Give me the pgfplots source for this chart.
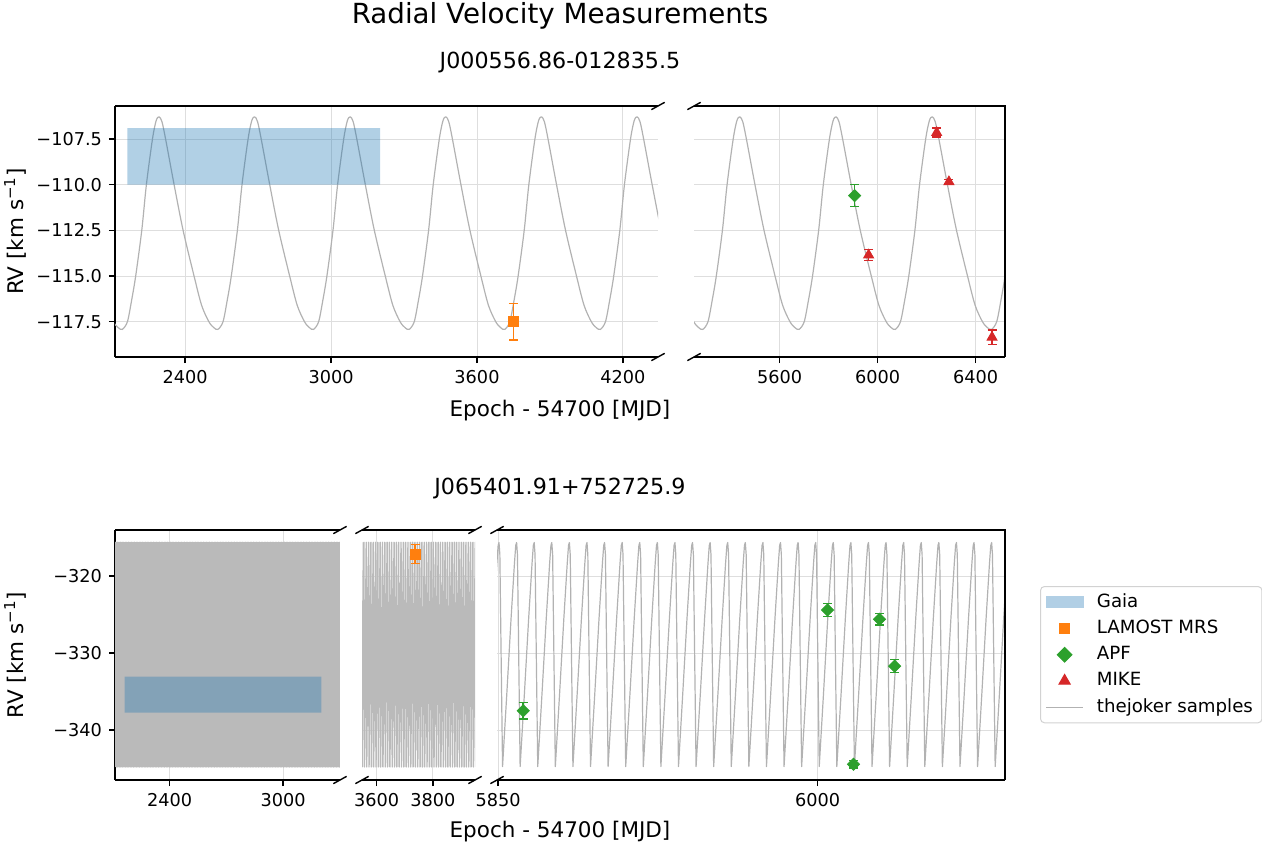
\documentclass[border=0pt]{standalone}
\usepackage{fontspec}
\setmainfont{DejaVu Sans}
\usepackage{pgfplots}
\pgfplotsset{compat=1.18}
\definecolor{tabblue}{HTML}{1F77B4}
\definecolor{taborange}{HTML}{FF7F0E}
\definecolor{tabgreen}{HTML}{2CA02C}
\definecolor{tabred}{HTML}{D62728}
\definecolor{joker}{RGB}{178,178,178}
\definecolor{jokerdense}{RGB}{186,186,186}
\definecolor{gridc}{RGB}{222,222,222}
\definecolor{gaiapatch}{RGB}{177,207,229}
\definecolor{legframe}{RGB}{210,210,210}
\newcommand{\ticksize}{\fontsize{8.85}{10.6}\selectfont}
\newcommand{\legsize}{\fontsize{9.1}{11}\selectfont}
\newcommand{\labsize}{\fontsize{10.75}{12.9}\selectfont}
\newcommand{\subsize}{\fontsize{11.1}{13.3}\selectfont}
\newcommand{\titsize}{\fontsize{13.85}{16.6}\selectfont}
\pgfplotsset{
  brk/.style={scale only axis, anchor=south west, enlargelimits=false,
    axis x line*=bottom, axis y line*=left, tick align=outside,
    major tick length=3pt, every tick/.style={black,line width=0.7pt},
    axis line style={line width=0.7pt},
    xmajorgrids, ymajorgrids, major grid style={gridc,line width=0.5pt},
    tick label style={font=\ticksize},
    /pgf/number format/assume math mode=true, /pgf/number format/1000 sep={}},
  noy/.style={y axis line style={draw=none}, ytick style={draw=none}, yticklabels={}},
  jk/.style={joker, line width=0.6pt, line join=round, no marks},
  jkd/.style={jokerdense, line width=0.7pt, line join=round, no marks},
  errs/.style={only marks, error bars/y dir=both, error bars/y explicit,
    error bars/error bar style={line width=0.75pt},
    error bars/error mark options={rotate=90, mark size=2.25pt, line width=0.75pt}},
}
\begin{document}
\begin{tikzpicture}
\useasboundingbox (0,0) rectangle (631pt,424pt);
% ---------------- top left ----------------
\begin{axis}[brk, name=tl, at={(57.5pt,245.5pt)}, width=271.5pt, height=125.5pt,
  xmin=2112, xmax=4344, ymin=-119.43, ymax=-105.69,
  xtick={2400,3000,3600,4200},
  ytick={-117.5,-115,-112.5,-110,-107.5},
  yticklabels={−117.5,−115.0,−112.5,−110.0,−107.5}]
\addplot[jk, smooth] coordinates {
(2075,-116.6)(2105,-117.5)(2125,-117.82)
(2142,-117.92)(2163,-117.5)(2180,-116.35)(2197,-115.0)(2222,-112.5)(2241,-110.0)(2266,-107.5)(2281,-106.5)(2293,-106.28)(2305,-106.55)(2320,-107.5)(2355,-110.0)(2392,-112.5)(2437,-115.0)(2468,-116.6)(2498,-117.5)(2518,-117.82)
(2535,-117.92)(2556,-117.5)(2573,-116.35)(2590,-115.0)(2615,-112.5)(2634,-110.0)(2659,-107.5)(2674,-106.5)(2686,-106.28)(2698,-106.55)(2713,-107.5)(2748,-110.0)(2785,-112.5)(2830,-115.0)(2861,-116.6)(2891,-117.5)(2911,-117.82)
(2928,-117.92)(2949,-117.5)(2966,-116.35)(2983,-115.0)(3008,-112.5)(3027,-110.0)(3052,-107.5)(3067,-106.5)(3079,-106.28)(3091,-106.55)(3106,-107.5)(3141,-110.0)(3178,-112.5)(3223,-115.0)(3254,-116.6)(3284,-117.5)(3304,-117.82)
(3321,-117.92)(3342,-117.5)(3359,-116.35)(3376,-115.0)(3401,-112.5)(3420,-110.0)(3445,-107.5)(3460,-106.5)(3472,-106.28)(3484,-106.55)(3499,-107.5)(3534,-110.0)(3571,-112.5)(3616,-115.0)(3647,-116.6)(3677,-117.5)(3697,-117.82)
(3714,-117.92)(3735,-117.5)(3752,-116.35)(3769,-115.0)(3794,-112.5)(3813,-110.0)(3838,-107.5)(3853,-106.5)(3865,-106.28)(3877,-106.55)(3892,-107.5)(3927,-110.0)(3964,-112.5)(4009,-115.0)(4040,-116.6)(4070,-117.5)(4090,-117.82)
(4107,-117.92)(4128,-117.5)(4145,-116.35)(4162,-115.0)(4187,-112.5)(4206,-110.0)(4231,-107.5)(4246,-106.5)(4258,-106.28)(4270,-106.55)(4285,-107.5)(4320,-110.0)(4357,-112.5)(4402,-115.0)
};
\addplot[fill=tabblue, fill opacity=0.35, draw=none] coordinates {(2163,-110.0)(3202,-110.0)(3202,-106.9)(2163,-106.9)(2163,-110.0)};
\addplot[errs, taborange, mark=square*, mark size=2.5pt] coordinates {(3749,-117.5) +- (0,1.0)};
\end{axis}
% ---------------- top right ----------------
\begin{axis}[brk, noy, name=tr, at={(347pt,245.5pt)}, width=155.5pt, height=125.5pt,
  xmin=5250, xmax=6520, ymin=-119.43, ymax=-105.69,
  xtick={5600,6000,6400},
  ytick={-117.5,-115,-112.5,-110,-107.5}]
\addplot[jk, smooth] coordinates {
(5219,-116.6)(5249,-117.5)(5269,-117.82)
(5286,-117.92)(5307,-117.5)(5324,-116.35)(5341,-115.0)(5366,-112.5)(5385,-110.0)(5410,-107.5)(5425,-106.5)(5437,-106.28)(5449,-106.55)(5464,-107.5)(5499,-110.0)(5536,-112.5)(5581,-115.0)(5612,-116.6)(5642,-117.5)(5662,-117.82)
(5679,-117.92)(5700,-117.5)(5717,-116.35)(5734,-115.0)(5759,-112.5)(5778,-110.0)(5803,-107.5)(5818,-106.5)(5830,-106.28)(5842,-106.55)(5857,-107.5)(5892,-110.0)(5929,-112.5)(5974,-115.0)(6005,-116.6)(6035,-117.5)(6055,-117.82)
(6072,-117.92)(6093,-117.5)(6110,-116.35)(6127,-115.0)(6152,-112.5)(6171,-110.0)(6196,-107.5)(6211,-106.5)(6223,-106.28)(6235,-106.55)(6250,-107.5)(6285,-110.0)(6322,-112.5)(6367,-115.0)(6398,-116.6)(6428,-117.5)(6448,-117.82)
(6465,-117.92)(6486,-117.5)(6503,-116.35)(6520,-115.0)(6545,-112.5)
};
\addplot[errs, tabgreen, mark=square*, mark size=2.15pt, mark options={rotate=45}] coordinates {(5906,-110.6) +- (0,0.6)};
\addplot[errs, tabred, mark=triangle*, mark size=2.9pt] coordinates {
(5963,-113.85) +- (0,0.3)
(6241,-107.15) +- (0,0.25)
(6291,-109.84) +- (0,0.12)
(6467,-118.35) +- (0,0.4)
};
\end{axis}
% ---------------- bottom left ----------------
\begin{axis}[brk, name=bl, at={(57.5pt,34pt)}, width=112.5pt, height=125pt,
  xmin=2112, xmax=3300, ymin=-346.5, ymax=-314.0,
  xtick={2400,3000},
  ytick={-340,-330,-320}, yticklabels={−340,−330,−320}]
\addplot[jkd] coordinates {
(2110,-344.8)(2116.6,-315.6)(2118.25,-344.8)(2124.85,-315.6)(2126.5,-344.8)(2133.1,-315.6)(2134.75,-344.8)(2141.35,-315.6)
(2143,-344.8)(2149.6,-315.6)(2151.25,-344.8)(2157.85,-315.6)(2159.5,-344.8)(2166.1,-315.6)(2167.75,-344.8)(2174.35,-315.6)
(2176,-344.8)(2182.6,-315.6)(2184.25,-344.8)(2190.85,-315.6)(2192.5,-344.8)(2199.1,-315.6)(2200.75,-344.8)(2207.35,-315.6)
(2209,-344.8)(2215.6,-315.6)(2217.25,-344.8)(2223.85,-315.6)(2225.5,-344.8)(2232.1,-315.6)(2233.75,-344.8)(2240.35,-315.6)
(2242,-344.8)(2248.6,-315.6)(2250.25,-344.8)(2256.85,-315.6)(2258.5,-344.8)(2265.1,-315.6)(2266.75,-344.8)(2273.35,-315.6)
(2275,-344.8)(2281.6,-315.6)(2283.25,-344.8)(2289.85,-315.6)(2291.5,-344.8)(2298.1,-315.6)(2299.75,-344.8)(2306.35,-315.6)
(2308,-344.8)(2314.6,-315.6)(2316.25,-344.8)(2322.85,-315.6)(2324.5,-344.8)(2331.1,-315.6)(2332.75,-344.8)(2339.35,-315.6)
(2341,-344.8)(2347.6,-315.6)(2349.25,-344.8)(2355.85,-315.6)(2357.5,-344.8)(2364.1,-315.6)(2365.75,-344.8)(2372.35,-315.6)
(2374,-344.8)(2380.6,-315.6)(2382.25,-344.8)(2388.85,-315.6)(2390.5,-344.8)(2397.1,-315.6)(2398.75,-344.8)(2405.35,-315.6)
(2407,-344.8)(2413.6,-315.6)(2415.25,-344.8)(2421.85,-315.6)(2423.5,-344.8)(2430.1,-315.6)(2431.75,-344.8)(2438.35,-315.6)
(2440,-344.8)(2446.6,-315.6)(2448.25,-344.8)(2454.85,-315.6)(2456.5,-344.8)(2463.1,-315.6)(2464.75,-344.8)(2471.35,-315.6)
(2473,-344.8)(2479.6,-315.6)(2481.25,-344.8)(2487.85,-315.6)(2489.5,-344.8)(2496.1,-315.6)(2497.75,-344.8)(2504.35,-315.6)
(2506,-344.8)(2512.6,-315.6)(2514.25,-344.8)(2520.85,-315.6)(2522.5,-344.8)(2529.1,-315.6)(2530.75,-344.8)(2537.35,-315.6)
(2539,-344.8)(2545.6,-315.6)(2547.25,-344.8)(2553.85,-315.6)(2555.5,-344.8)(2562.1,-315.6)(2563.75,-344.8)(2570.35,-315.6)
(2572,-344.8)(2578.6,-315.6)(2580.25,-344.8)(2586.85,-315.6)(2588.5,-344.8)(2595.1,-315.6)(2596.75,-344.8)(2603.35,-315.6)
(2605,-344.8)(2611.6,-315.6)(2613.25,-344.8)(2619.85,-315.6)(2621.5,-344.8)(2628.1,-315.6)(2629.75,-344.8)(2636.35,-315.6)
(2638,-344.8)(2644.6,-315.6)(2646.25,-344.8)(2652.85,-315.6)(2654.5,-344.8)(2661.1,-315.6)(2662.75,-344.8)(2669.35,-315.6)
(2671,-344.8)(2677.6,-315.6)(2679.25,-344.8)(2685.85,-315.6)(2687.5,-344.8)(2694.1,-315.6)(2695.75,-344.8)(2702.35,-315.6)
(2704,-344.8)(2710.6,-315.6)(2712.25,-344.8)(2718.85,-315.6)(2720.5,-344.8)(2727.1,-315.6)(2728.75,-344.8)(2735.35,-315.6)
(2737,-344.8)(2743.6,-315.6)(2745.25,-344.8)(2751.85,-315.6)(2753.5,-344.8)(2760.1,-315.6)(2761.75,-344.8)(2768.35,-315.6)
(2770,-344.8)(2776.6,-315.6)(2778.25,-344.8)(2784.85,-315.6)(2786.5,-344.8)(2793.1,-315.6)(2794.75,-344.8)(2801.35,-315.6)
(2803,-344.8)(2809.6,-315.6)(2811.25,-344.8)(2817.85,-315.6)(2819.5,-344.8)(2826.1,-315.6)(2827.75,-344.8)(2834.35,-315.6)
(2836,-344.8)(2842.6,-315.6)(2844.25,-344.8)(2850.85,-315.6)(2852.5,-344.8)(2859.1,-315.6)(2860.75,-344.8)(2867.35,-315.6)
(2869,-344.8)(2875.6,-315.6)(2877.25,-344.8)(2883.85,-315.6)(2885.5,-344.8)(2892.1,-315.6)(2893.75,-344.8)(2900.35,-315.6)
(2902,-344.8)(2908.6,-315.6)(2910.25,-344.8)(2916.85,-315.6)(2918.5,-344.8)(2925.1,-315.6)(2926.75,-344.8)(2933.35,-315.6)
(2935,-344.8)(2941.6,-315.6)(2943.25,-344.8)(2949.85,-315.6)(2951.5,-344.8)(2958.1,-315.6)(2959.75,-344.8)(2966.35,-315.6)
(2968,-344.8)(2974.6,-315.6)(2976.25,-344.8)(2982.85,-315.6)(2984.5,-344.8)(2991.1,-315.6)(2992.75,-344.8)(2999.35,-315.6)
(3001,-344.8)(3007.6,-315.6)(3009.25,-344.8)(3015.85,-315.6)(3017.5,-344.8)(3024.1,-315.6)(3025.75,-344.8)(3032.35,-315.6)
(3034,-344.8)(3040.6,-315.6)(3042.25,-344.8)(3048.85,-315.6)(3050.5,-344.8)(3057.1,-315.6)(3058.75,-344.8)(3065.35,-315.6)
(3067,-344.8)(3073.6,-315.6)(3075.25,-344.8)(3081.85,-315.6)(3083.5,-344.8)(3090.1,-315.6)(3091.75,-344.8)(3098.35,-315.6)
(3100,-344.8)(3106.6,-315.6)(3108.25,-344.8)(3114.85,-315.6)(3116.5,-344.8)(3123.1,-315.6)(3124.75,-344.8)(3131.35,-315.6)
(3133,-344.8)(3139.6,-315.6)(3141.25,-344.8)(3147.85,-315.6)(3149.5,-344.8)(3156.1,-315.6)(3157.75,-344.8)(3164.35,-315.6)
(3166,-344.8)(3172.6,-315.6)(3174.25,-344.8)(3180.85,-315.6)(3182.5,-344.8)(3189.1,-315.6)(3190.75,-344.8)(3197.35,-315.6)
(3199,-344.8)(3205.6,-315.6)(3207.25,-344.8)(3213.85,-315.6)(3215.5,-344.8)(3222.1,-315.6)(3223.75,-344.8)(3230.35,-315.6)
(3232,-344.8)(3238.6,-315.6)(3240.25,-344.8)(3246.85,-315.6)(3248.5,-344.8)(3255.1,-315.6)(3256.75,-344.8)(3263.35,-315.6)
(3265,-344.8)(3271.6,-315.6)(3273.25,-344.8)(3279.85,-315.6)(3281.5,-344.8)(3288.1,-315.6)(3289.75,-344.8)(3296.35,-315.6)
(3298,-344.8)(3304.6,-315.6)
};
\addplot[fill=tabblue, fill opacity=0.35, draw=none] coordinates {(2163,-337.75)(3202,-337.75)(3202,-333.07)(2163,-333.07)(2163,-337.75)};
\end{axis}
% ---------------- bottom middle ----------------
\begin{axis}[brk, noy, name=bm, at={(181pt,34pt)}, width=56.5pt, height=125pt,
  xmin=3548, xmax=3950, ymin=-346.5, ymax=-314.0,
  xtick={3600,3800}, ytick={-340,-330,-320}]
\addplot[jkd] coordinates {
(3540,-344.8)(3546.6,-315.6)(3548.25,-344.8)(3554.85,-315.6)(3556.5,-344.8)(3563.1,-315.6)(3564.75,-344.8)(3571.35,-315.6)
(3573,-344.8)(3579.6,-315.6)(3581.25,-344.8)(3587.85,-315.6)(3589.5,-344.8)(3596.1,-315.6)(3597.75,-344.8)(3604.35,-315.6)
(3606,-344.8)(3612.6,-315.6)(3614.25,-344.8)(3620.85,-315.6)(3622.5,-344.8)(3629.1,-315.6)(3630.75,-344.8)(3637.35,-315.6)
(3639,-344.8)(3645.6,-315.6)(3647.25,-344.8)(3653.85,-315.6)(3655.5,-344.8)(3662.1,-315.6)(3663.75,-344.8)(3670.35,-315.6)
(3672,-344.8)(3678.6,-315.6)(3680.25,-344.8)(3686.85,-315.6)(3688.5,-344.8)(3695.1,-315.6)(3696.75,-344.8)(3703.35,-315.6)
(3705,-344.8)(3711.6,-315.6)(3713.25,-344.8)(3719.85,-315.6)(3721.5,-344.8)(3728.1,-315.6)(3729.75,-344.8)(3736.35,-315.6)
(3738,-344.8)(3744.6,-315.6)(3746.25,-344.8)(3752.85,-315.6)(3754.5,-344.8)(3761.1,-315.6)(3762.75,-344.8)(3769.35,-315.6)
(3771,-344.8)(3777.6,-315.6)(3779.25,-344.8)(3785.85,-315.6)(3787.5,-344.8)(3794.1,-315.6)(3795.75,-344.8)(3802.35,-315.6)
(3804,-344.8)(3810.6,-315.6)(3812.25,-344.8)(3818.85,-315.6)(3820.5,-344.8)(3827.1,-315.6)(3828.75,-344.8)(3835.35,-315.6)
(3837,-344.8)(3843.6,-315.6)(3845.25,-344.8)(3851.85,-315.6)(3853.5,-344.8)(3860.1,-315.6)(3861.75,-344.8)(3868.35,-315.6)
(3870,-344.8)(3876.6,-315.6)(3878.25,-344.8)(3884.85,-315.6)(3886.5,-344.8)(3893.1,-315.6)(3894.75,-344.8)(3901.35,-315.6)
(3903,-344.8)(3909.6,-315.6)(3911.25,-344.8)(3917.85,-315.6)(3919.5,-344.8)(3926.1,-315.6)(3927.75,-344.8)(3934.35,-315.6)
(3936,-344.8)(3942.6,-315.6)(3944.25,-344.8)(3950.85,-315.6)(3952.5,-344.8)
};
\addplot[errs, taborange, mark=square*, mark size=2.5pt] coordinates {(3737,-317.14) +- (0,1.23)};
\end{axis}
% ---------------- bottom right ----------------
\begin{axis}[brk, noy, name=br, at={(248.5pt,34pt)}, width=254pt, height=125pt,
  xmin=5849.5, xmax=6088, ymin=-346.5, ymax=-314.0,
  xtick={5850,6000}, ytick={-340,-330,-320},
  legend cell align=left,
  legend image code/.code={\draw[mark repeat=2,mark phase=2] plot coordinates {(0pt,0pt) (9.25pt,0pt) (18.5pt,0pt)};},
  legend style={at={(1.0689,0.776)}, anchor=north west, draw=legframe, line width=0.5pt,
    rounded corners=2pt, font=\legsize, inner xsep=2.5pt, inner ysep=1.6pt, row sep=0.9pt,
    /tikz/every odd column/.append style={column sep=4.6pt}}]
\addplot[jk, forget plot] coordinates {
(5843.84,-344.76)(5845.84,-335.3)(5847.84,-325.5)(5849.44,-318.3)(5850.04,-316.0)(5850.44,-315.63)(5850.84,-317.2)(5851.44,-330.5)
(5852.10,-344.76)(5854.10,-335.3)(5856.10,-325.5)(5857.70,-318.3)(5858.30,-316.0)(5858.70,-315.63)(5859.10,-317.2)(5859.70,-330.5)
(5860.36,-344.76)(5862.36,-335.3)(5864.36,-325.5)(5865.96,-318.3)(5866.56,-316.0)(5866.96,-315.63)(5867.36,-317.2)(5867.96,-330.5)
(5868.62,-344.76)(5870.62,-335.3)(5872.62,-325.5)(5874.22,-318.3)(5874.82,-316.0)(5875.22,-315.63)(5875.62,-317.2)(5876.22,-330.5)
(5876.88,-344.76)(5878.88,-335.3)(5880.88,-325.5)(5882.48,-318.3)(5883.08,-316.0)(5883.48,-315.63)(5883.88,-317.2)(5884.48,-330.5)
(5885.14,-344.76)(5887.14,-335.3)(5889.14,-325.5)(5890.74,-318.3)(5891.34,-316.0)(5891.74,-315.63)(5892.14,-317.2)(5892.74,-330.5)
(5893.40,-344.76)(5895.40,-335.3)(5897.40,-325.5)(5899.00,-318.3)(5899.60,-316.0)(5900.00,-315.63)(5900.40,-317.2)(5901.00,-330.5)
(5901.66,-344.76)(5903.66,-335.3)(5905.66,-325.5)(5907.26,-318.3)(5907.86,-316.0)(5908.26,-315.63)(5908.66,-317.2)(5909.26,-330.5)
(5909.92,-344.76)(5911.92,-335.3)(5913.92,-325.5)(5915.52,-318.3)(5916.12,-316.0)(5916.52,-315.63)(5916.92,-317.2)(5917.52,-330.5)
(5918.18,-344.76)(5920.18,-335.3)(5922.18,-325.5)(5923.78,-318.3)(5924.38,-316.0)(5924.78,-315.63)(5925.18,-317.2)(5925.78,-330.5)
(5926.44,-344.76)(5928.44,-335.3)(5930.44,-325.5)(5932.04,-318.3)(5932.64,-316.0)(5933.04,-315.63)(5933.44,-317.2)(5934.04,-330.5)
(5934.70,-344.76)(5936.70,-335.3)(5938.70,-325.5)(5940.30,-318.3)(5940.90,-316.0)(5941.30,-315.63)(5941.70,-317.2)(5942.30,-330.5)
(5942.96,-344.76)(5944.96,-335.3)(5946.96,-325.5)(5948.56,-318.3)(5949.16,-316.0)(5949.56,-315.63)(5949.96,-317.2)(5950.56,-330.5)
(5951.22,-344.76)(5953.22,-335.3)(5955.22,-325.5)(5956.82,-318.3)(5957.42,-316.0)(5957.82,-315.63)(5958.22,-317.2)(5958.82,-330.5)
(5959.48,-344.76)(5961.48,-335.3)(5963.48,-325.5)(5965.08,-318.3)(5965.68,-316.0)(5966.08,-315.63)(5966.48,-317.2)(5967.08,-330.5)
(5967.74,-344.76)(5969.74,-335.3)(5971.74,-325.5)(5973.34,-318.3)(5973.94,-316.0)(5974.34,-315.63)(5974.74,-317.2)(5975.34,-330.5)
(5976.00,-344.76)(5978.00,-335.3)(5980.00,-325.5)(5981.60,-318.3)(5982.20,-316.0)(5982.60,-315.63)(5983.00,-317.2)(5983.60,-330.5)
(5984.26,-344.76)(5986.26,-335.3)(5988.26,-325.5)(5989.86,-318.3)(5990.46,-316.0)(5990.86,-315.63)(5991.26,-317.2)(5991.86,-330.5)
(5992.52,-344.76)(5994.52,-335.3)(5996.52,-325.5)(5998.12,-318.3)(5998.72,-316.0)(5999.12,-315.63)(5999.52,-317.2)(6000.12,-330.5)
(6000.78,-344.76)(6002.78,-335.3)(6004.78,-325.5)(6006.38,-318.3)(6006.98,-316.0)(6007.38,-315.63)(6007.78,-317.2)(6008.38,-330.5)
(6009.04,-344.76)(6011.04,-335.3)(6013.04,-325.5)(6014.64,-318.3)(6015.24,-316.0)(6015.64,-315.63)(6016.04,-317.2)(6016.64,-330.5)
(6017.30,-344.76)(6019.30,-335.3)(6021.30,-325.5)(6022.90,-318.3)(6023.50,-316.0)(6023.90,-315.63)(6024.30,-317.2)(6024.90,-330.5)
(6025.56,-344.76)(6027.56,-335.3)(6029.56,-325.5)(6031.16,-318.3)(6031.76,-316.0)(6032.16,-315.63)(6032.56,-317.2)(6033.16,-330.5)
(6033.82,-344.76)(6035.82,-335.3)(6037.82,-325.5)(6039.42,-318.3)(6040.02,-316.0)(6040.42,-315.63)(6040.82,-317.2)(6041.42,-330.5)
(6042.08,-344.76)(6044.08,-335.3)(6046.08,-325.5)(6047.68,-318.3)(6048.28,-316.0)(6048.68,-315.63)(6049.08,-317.2)(6049.68,-330.5)
(6050.34,-344.76)(6052.34,-335.3)(6054.34,-325.5)(6055.94,-318.3)(6056.54,-316.0)(6056.94,-315.63)(6057.34,-317.2)(6057.94,-330.5)
(6058.60,-344.76)(6060.60,-335.3)(6062.60,-325.5)(6064.20,-318.3)(6064.80,-316.0)(6065.20,-315.63)(6065.60,-317.2)(6066.20,-330.5)
(6066.86,-344.76)(6068.86,-335.3)(6070.86,-325.5)(6072.46,-318.3)(6073.06,-316.0)(6073.46,-315.63)(6073.86,-317.2)(6074.46,-330.5)
(6075.12,-344.76)(6077.12,-335.3)(6079.12,-325.5)(6080.72,-318.3)(6081.32,-316.0)(6081.72,-315.63)(6082.12,-317.2)(6082.72,-330.5)
(6083.38,-344.76)(6085.38,-335.3)(6087.38,-325.5)(6088.98,-318.3)(6089.58,-316.0)
};
\addplot[errs, tabgreen, mark=square*, mark size=2.15pt, mark options={rotate=45}, forget plot] coordinates {
(5861.8,-337.5) +- (0,1.1)
(6004.7,-324.4) +- (0,0.82)
(6016.9,-344.45) +- (0,0.5)
(6029.1,-325.6) +- (0,0.74)
(6036.2,-331.7) +- (0,0.84)
};
\addlegendimage{legend image code/.code={\fill[gaiapatch, sharp corners] (0pt,-2.6pt) rectangle (18.5pt,2.6pt);}}
\addlegendentry{Gaia}
\addlegendimage{only marks, taborange, mark=square*, mark size=2.5pt}
\addlegendentry{LAMOST MRS}
\addlegendimage{only marks, tabgreen, mark=square*, mark size=2.6pt, mark options={rotate=45}}
\addlegendentry{APF}
\addlegendimage{only marks, tabred, mark=triangle*, mark size=3.2pt}
\addlegendentry{MIKE}
\addlegendimage{joker, line width=0.6pt, no marks}
\addlegendentry{thejoker samples}
\end{axis}
% ---------------- spines and break marks ----------------
\begin{scope}[line width=0.7pt, black]
\draw (tl.north west) -- (tl.north east);
\draw (tr.north west) -- (tr.north east) -- (tr.south east);
\draw (bl.north west) -- (bl.north east);
\draw (bm.north west) -- (bm.north east);
\draw (br.north west) -- (br.north east) -- (br.south east);
\foreach \p in {tl.north east, tl.south east, tr.north west, tr.south west,
  bl.north east, bl.south east, bm.north west, bm.south west, bm.north east, bm.south east,
  br.north west, br.south west}
  \draw ([xshift=-3.33pt,yshift=-1.83pt]\p) -- ([xshift=3.33pt,yshift=1.83pt]\p);
\end{scope}
% ---------------- titles and labels ----------------
\node[font=\titsize] at (280pt,416pt) {Radial Velocity Measurements};
\node[font=\subsize] at (280pt,393pt) {J000556.86-012835.5};
\node[font=\subsize] at (280pt,180pt) {J065401.91+752725.9};
\node[font=\labsize] at (280pt,218.5pt) {Epoch - 54700 [MJD]};
\node[font=\labsize] at (280pt,8pt) {Epoch - 54700 [MJD]};
\node[font=\labsize, rotate=90] at (7.5pt,308.25pt) {RV [km s\textsuperscript{−1}]};
\node[font=\labsize, rotate=90] at (7.5pt,96.5pt) {RV [km s\textsuperscript{−1}]};
\end{tikzpicture}
\end{document}
